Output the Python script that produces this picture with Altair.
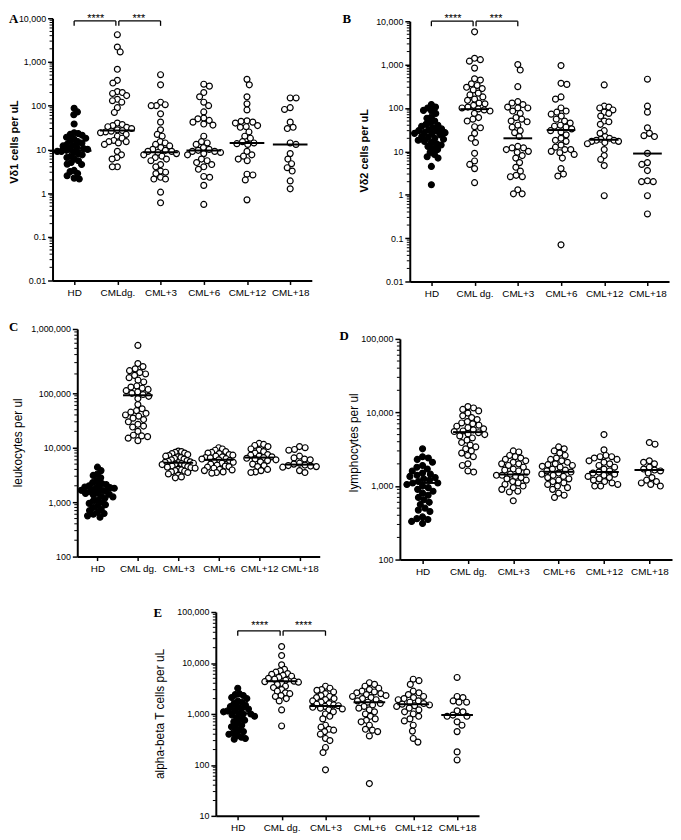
import json
import math
import altair as alt
import pandas as pd

# ---------------- data ----------------
LABELS_A = ["HD", "CMLdg.", "CML+3", "CML+6", "CML+12", "CML+18"]
LABELS = ["HD", "CML dg.", "CML+3", "CML+6", "CML+12", "CML+18"]

# A: Vd1 cells per uL
VD1 = [
    [87, 72, 62, 38, 24, 23, 22, 21, 19, 18, 17, 16, 15, 14, 13, 12.5, 12, 11, 10.5, 10, 10, 9.5, 9, 9, 8.5, 8, 7.5, 7, 6.5, 6, 5.5, 5, 4.6, 4.5, 3.3, 3.1, 2.8, 2.5, 2.2, 2.1],
    [4200, 2200, 1700, 680, 380, 330, 210, 200, 190, 170, 140, 130, 120, 90, 70, 40, 37, 35, 33, 32, 30, 28, 27, 26, 25, 24, 22, 20, 18, 16, 15, 15, 14, 13, 9, 7.5, 6.5, 6, 4, 4],
    [510, 300, 120, 105, 100, 100, 65, 42, 28, 22, 20, 15, 14, 13, 12, 11, 10, 9.5, 9, 9, 8.5, 8, 7.5, 7, 6.5, 6, 5.5, 4.5, 4, 3.2, 3, 2.8, 2.3, 2.1, 2.1, 1.05, 0.6],
    [310, 280, 200, 160, 120, 100, 72, 52, 50, 46, 42, 38, 36, 20, 15, 14, 13, 11, 10, 9.5, 9, 9, 8.5, 8, 7.5, 6, 5.5, 5, 4.5, 4, 3.5, 2.4, 2.3, 1.5, 0.55],
    [400, 300, 160, 110, 80, 45, 44, 42, 40, 35, 33, 32, 25, 20, 18, 15, 14, 13.5, 13, 9, 7.5, 7, 6, 5.5, 2.7, 2.6, 2.0, 0.7],
    [150, 150, 90, 82, 42, 32, 30, 14, 13, 8, 6, 4.7, 3.8, 3.2, 1.9, 1.25],
]
VD1_MED = [9.3, 27, 8.6, 9.4, 14, 13]

# B: Vd2 cells per uL
VD2 = [
    [120, 105, 100, 88, 85, 75, 62, 58, 50, 45, 42, 40, 38, 35, 33, 32, 30, 29, 28, 27, 26, 25, 24, 22, 21, 20, 19, 18, 17, 16, 15, 14, 13, 12, 11, 9.5, 8.5, 7.5, 7, 4.5, 1.7],
    [5700, 1400, 1300, 1200, 830, 470, 440, 360, 330, 300, 280, 260, 220, 200, 180, 160, 150, 130, 125, 115, 105, 100, 95, 90, 85, 75, 60, 55, 50, 37, 35, 26, 20, 16, 9, 6, 5, 4, 1.9],
    [1000, 750, 310, 140, 130, 120, 105, 100, 100, 85, 75, 60, 55, 50, 48, 40, 36, 30, 27, 22, 13, 12, 12, 11, 10, 9.5, 8, 7, 5.5, 4.3, 3.5, 2.8, 2.6, 2.6, 1.3, 1.05, 1.05],
    [950, 370, 350, 180, 160, 100, 85, 80, 72, 65, 55, 50, 45, 40, 38, 36, 33, 30, 28, 24, 20, 18, 17, 14, 12.5, 11, 11, 10, 9.3, 8.5, 7, 4, 3, 2.7, 0.07],
    [340, 110, 105, 100, 90, 80, 75, 65, 50, 48, 42, 30, 26, 22, 20, 19, 18, 18, 17, 17, 16, 15, 11, 8, 6.5, 4.7, 0.95],
    [460, 110, 80, 35, 26, 23, 22, 9, 5.5, 5, 3.6, 2.1, 2.0, 2.0, 0.95, 0.36],
]
VD2_MED = [28, 94, 20, 31, 18.5, 8.9]

# C: leukocytes per ul
LEU = [
    [4400, 3800, 3300, 3100, 2800, 2500, 2300, 2200, 2100, 2000, 1950, 1900, 1850, 1800, 1750, 1700, 1650, 1600, 1550, 1500, 1450, 1400, 1350, 1300, 1250, 1200, 1100, 1050, 1000, 950, 900, 850, 800, 750, 700, 650, 620, 600, 560, 530],
    [555000, 290000, 260000, 240000, 225000, 210000, 200000, 190000, 175000, 160000, 150000, 130000, 125000, 120000, 115000, 110000, 105000, 100000, 95000, 88000, 80000, 62000, 52000, 48000, 45000, 43000, 40000, 38000, 35000, 33000, 30000, 27000, 25000, 24000, 20000, 17000, 16500, 16000, 15000, 13500],
    [8700, 8500, 8200, 8000, 7800, 7500, 7200, 7000, 6800, 6600, 6400, 6200, 6000, 5800, 5600, 5500, 5400, 5300, 5200, 5100, 5000, 4900, 4800, 4600, 4500, 4400, 4300, 4200, 4000, 3900, 3800, 3700, 3600, 3500, 3300, 3100, 2900, 2800],
    [10000, 9500, 9000, 8500, 8200, 8000, 7800, 7500, 7300, 7000, 6800, 6600, 6500, 6300, 6200, 6000, 5800, 5600, 5400, 5200, 5000, 4800, 4600, 4500, 4400, 4200, 4000, 3900, 3800, 3600, 3500, 3400],
    [12000, 11500, 11000, 10500, 9500, 9000, 8500, 8000, 7500, 7300, 7000, 6800, 6600, 6400, 6200, 6000, 5800, 5500, 5000, 4700, 4500, 4000, 3800, 3600, 3500],
    [10500, 10000, 9300, 9000, 7000, 6500, 6200, 6000, 5200, 5000, 4800, 4700, 4600, 4500, 4400, 3800, 3500],
]
LEU_MED = [1500, 92000, 5300, 6000, 6600, 4900]

# D: lymphocytes per ul
LYM = [
    [3200, 2500, 2400, 2300, 2100, 1900, 1800, 1700, 1600, 1500, 1450, 1400, 1350, 1300, 1250, 1200, 1150, 1100, 1100, 1050, 1000, 950, 900, 850, 800, 750, 700, 650, 600, 560, 500, 470, 450, 380, 360, 350, 330, 310],
    [12000, 11500, 11000, 10500, 9800, 9000, 8500, 8000, 7500, 7200, 7000, 6700, 6500, 6200, 6000, 5800, 5600, 5500, 5300, 5100, 5000, 4800, 4500, 4200, 3900, 3600, 3400, 3200, 3000, 2800, 2600, 2500, 2000, 1900, 1600, 1550],
    [3000, 2900, 2600, 2500, 2400, 2300, 2200, 2100, 2000, 2000, 1900, 1800, 1700, 1650, 1600, 1550, 1450, 1400, 1400, 1350, 1300, 1250, 1200, 1150, 1100, 1050, 1000, 950, 900, 850, 830, 630],
    [3400, 3200, 3000, 2800, 2600, 2400, 2300, 2200, 2100, 2000, 1950, 1900, 1850, 1800, 1700, 1650, 1600, 1550, 1500, 1450, 1400, 1350, 1300, 1250, 1200, 1150, 1100, 1050, 1000, 950, 900, 800, 750, 700],
    [5000, 3100, 2600, 2500, 2500, 2400, 2300, 2200, 2100, 2000, 1900, 1800, 1700, 1600, 1550, 1500, 1450, 1400, 1350, 1300, 1250, 1200, 1150, 1100, 1050, 1000, 1000],
    [3900, 3700, 2200, 2100, 2000, 1800, 1700, 1650, 1600, 1500, 1300, 1200, 1150, 1100, 1050, 1000],
]
LYM_MED = [1100, 5400, 1430, 1560, 1550, 1650]

# E: alpha-beta T cells per uL
ABT = [
    [3200, 2500, 2400, 2300, 2100, 2000, 1800, 1700, 1600, 1500, 1400, 1350, 1300, 1250, 1200, 1150, 1100, 1050, 1000, 1000, 950, 900, 850, 800, 750, 700, 650, 600, 560, 520, 480, 450, 420, 400, 380, 350, 330, 320],
    [21000, 14000, 9200, 7500, 7000, 6600, 6200, 6000, 5700, 5500, 5200, 5000, 4800, 4600, 4400, 4300, 4200, 4000, 3800, 3500, 3300, 3000, 2800, 2600, 2500, 2300, 2200, 2000, 1800, 1200, 580],
    [3500, 3200, 3000, 2900, 2700, 2500, 2300, 2200, 2100, 2000, 1900, 1800, 1700, 1600, 1550, 1500, 1450, 1400, 1350, 1300, 1250, 1200, 1100, 1000, 900, 800, 600, 550, 500, 480, 450, 400, 330, 300, 220, 175, 80],
    [4100, 3800, 3500, 3200, 3000, 2800, 2700, 2600, 2500, 2400, 2300, 2200, 2100, 2000, 1900, 1800, 1700, 1600, 1500, 1400, 1300, 1200, 1100, 1000, 900, 800, 750, 700, 600, 500, 480, 450, 370, 43],
    [4800, 4500, 3800, 2800, 2600, 2400, 2200, 2100, 2000, 1900, 1800, 1700, 1600, 1550, 1500, 1450, 1400, 1300, 1200, 1100, 1000, 900, 800, 730, 600, 460, 330, 280],
    [5200, 2200, 2100, 1800, 1700, 1700, 1150, 1100, 950, 900, 900, 700, 600, 450, 180, 125],
]
ABT_MED = [1030, 4400, 1430, 1700, 1550, 950]

# significance brackets: (from group, to group, y value, stars)
BR_A = [(0, 1, 8700, "****"), (1, 2, 8700, "***")]
BR_B = [(0, 1, 10000, "****"), (1, 2, 10000, "***")]
BR_E = [(0, 1, 42800, "****"), (1, 2, 42800, "****")]

# ---------------- styling ----------------
SANS = "Liberation Sans, Arial, sans-serif"
SERIF = "Liberation Serif, Times New Roman, serif"
DOT = 6.0
HALF_W = 17.0
ONE = pd.DataFrame({"k": [0]})


def make_ypix(dom, rng):
    ld = [math.log10(v) for v in dom]

    def f(v):
        lv = math.log10(v)
        for k in range(len(ld) - 1):
            if lv <= ld[k + 1] or k == len(ld) - 2:
                t = (lv - ld[k]) / (ld[k + 1] - ld[k])
                return rng[k] + t * (rng[k + 1] - rng[k])
    return f


def swarm(pix, d=DOT, half=HALF_W):
    order = sorted(range(len(pix)), key=lambda i: pix[i])
    placed = []
    offs = [0.0] * len(pix)
    flip = 1
    for i in order:
        y = pix[i]
        near = [(px, py) for px, py in placed if abs(py - y) < d]
        cands = [0.0]
        for px, py in near:
            dx = math.sqrt(d * d - (py - y) ** 2)
            cands += [px + dx, px - dx]
        cands.sort(key=lambda c: (round(abs(c), 5), -flip * c))
        for c in cands:
            if all((c - px) ** 2 + (y - py) ** 2 >= d * d - 1e-6 for px, py in near):
                offs[i] = c
                placed.append((c, y))
                if abs(c) > 1e-9:
                    flip = -flip
                break
    m = max(abs(o) for o in offs) if offs else 0
    if m > half:
        offs = [o * half / m for o in offs]
    return offs


def make_panel(p):
    W, H = p["W"], p["H"]
    dom, rng = p["dom"], p["rng"]
    ypix = make_ypix(dom, rng)
    step = W / 6.0
    rows = []
    for gi, vals in enumerate(p["data"]):
        offs = swarm([ypix(v) for v in vals])
        for v, o in zip(vals, offs):
            rows.append({"pos": gi + o / step, "value": v,
                         "fillc": "black" if gi == 0 else "white"})
    pts = pd.DataFrame(rows)

    lo = round(math.log10(dom[0]))
    hi = round(math.log10(dom[-1]))
    decades = [10.0 ** e for e in range(lo, hi + 1)]
    minors = [k * 10.0 ** e for e in range(lo, hi) for k in range(2, 10)]

    xs = alt.Scale(domain=[-0.5, 5.5], nice=False, zero=False)
    ys = alt.Scale(type="log", domain=dom, range=rng, nice=False)
    lab_expr = json.dumps(p["labels"]) + "[round(datum.value)]"
    xaxis = alt.Axis(values=list(range(6)), labelExpr=lab_expr, tickSize=4,
                     tickWidth=1.5, tickColor="black", domainColor="black",
                     domainWidth=2, labelFont=SANS, labelFontSize=10,
                     labelColor="black", labelPadding=3, labelAngle=0,
                     labelOverlap=False, grid=False, title=None)
    yaxis = alt.Axis(values=decades, labelExpr="format(datum.value, ',')",
                     tickSize=5, tickWidth=1.5, tickColor="black",
                     domainColor="black", domainWidth=2, labelFont=SANS,
                     labelFontSize=9, labelColor="black", labelPadding=2,
                     labelOverlap=False, grid=False, title=None)

    def X(field):
        return alt.X(field, scale=xs, axis=xaxis)

    def Y(field):
        return alt.Y(field, scale=ys, axis=yaxis)

    L, T, R, B = p["box"]
    layers = []
    # data points (carry the axes)
    layers.append(alt.Chart(pts).mark_point(
        shape="circle", filled=True, size=36, stroke="black", strokeWidth=1.2,
        opacity=1).encode(
        x=X("pos:Q"), y=Y("value:Q"),
        fill=alt.Fill("fillc:N", scale=None)))
    # invisible frame fixing this panel's footprint in the layout
    layers.append(alt.Chart(ONE).mark_rect(opacity=0).encode(
        x=alt.value(-L), x2=alt.value(W + R), y=alt.value(-T), y2=alt.value(H + B)))
    # minor ticks of the log axis
    layers.append(alt.Chart(pd.DataFrame({"value": minors})).mark_rule(
        color="black", strokeWidth=1).encode(
        x=alt.value(-3), x2=alt.value(0), y=Y("value:Q")))
    # medians
    med = pd.DataFrame({"pos": list(range(6)), "value": p["med"]})
    layers.append(alt.Chart(med).mark_tick(
        orient="horizontal", size=p["medw"], thickness=2, color="black",
        opacity=1).encode(x=X("pos:Q"), y=Y("value:Q")))
    # significance brackets
    if p.get("br"):
        gap = 1.5 / step
        top_ppd = (rng[-2] - rng[-1]) / (math.log10(dom[-1]) - math.log10(dom[-2]))
        drop = 10 ** (-5.0 / top_ppd)
        hrows, vrows, srows = [], [], []
        for (a, b, yv, stars) in p["br"]:
            xa = a + (gap if a == 1 else 0)
            xb = b - (gap if b == 1 else 0)
            hrows.append({"pos": xa, "pos2": xb, "value": yv})
            vrows.append({"pos": xa, "value": yv, "value2": yv * drop})
            vrows.append({"pos": xb, "value": yv, "value2": yv * drop})
            srows.append({"pos": (a + b) / 2.0, "value": yv, "s": stars})
        layers.append(alt.Chart(pd.DataFrame(hrows)).mark_rule(
            color="black", strokeWidth=1.3).encode(
            x=X("pos:Q"), x2="pos2:Q", y=Y("value:Q")))
        layers.append(alt.Chart(pd.DataFrame(vrows)).mark_rule(
            color="black", strokeWidth=1.3).encode(
            x=X("pos:Q"), y=Y("value:Q"), y2="value2:Q"))
        sdy = p["star_top"] - ypix(p["br"][0][2])
        layers.append(alt.Chart(pd.DataFrame(srows)).mark_text(
            baseline="top", align="center", dy=sdy, fontSize=11, font=SANS,
            color="black").encode(
            x=X("pos:Q"), y=Y("value:Q"), text="s:N"))
    # y-axis title (rotated text)
    layers.append(alt.Chart(ONE).mark_text(
        angle=270, align="center", baseline="middle", font=SANS,
        fontSize=p["tfs"], fontWeight=p["tfw"], color="black").encode(
        x=alt.value(p["tx"]), y=alt.value(p["ty"]), text=alt.value(p["title"])))
    # panel letter
    lx, ly = p["letter_xy"]
    layers.append(alt.Chart(ONE).mark_text(
        align="left", baseline="top", font=SERIF, fontSize=13,
        fontWeight="bold", color="black").encode(
        x=alt.value(lx), y=alt.value(ly), text=alt.value(p["letter"])))
    return alt.layer(*layers).properties(width=W, height=H)


def spacer(w, h):
    return alt.Chart(ONE).mark_rect(opacity=0).encode(
        x=alt.value(0), x2=alt.value(w), y=alt.value(0), y2=alt.value(h)
    ).properties(width=w, height=h)


def cell(panel, w, h):
    return alt.vconcat(spacer(1, h),
                       alt.hconcat(spacer(w, 1), panel, spacing=0),
                       spacing=0)


pA = make_panel(dict(W=262, H=265, dom=[0.01, 10000], rng=[265, 0], data=VD1,
                     med=VD1_MED, medw=35, labels=LABELS_A,
                     title="Vδ1 cells per uL", tfs=11, tfw="bold", tx=-38, ty=125,
                     box=(44, 5, 15, 21), br=BR_A, star_top=-5,
                     letter="A", letter_xy=(-44, -5)))
pB = make_panel(dict(W=262, H=263, dom=[0.01, 10000], rng=[263, 0], data=VD2,
                     med=VD2_MED, medw=29, labels=LABELS,
                     title="Vδ2 cells per uL", tfs=11, tfw="bold", tx=-45, ty=131,
                     box=(70, 8, 4, 20), br=BR_B, star_top=-8,
                     letter="B", letter_xy=(-68, -8)))
pC = make_panel(dict(W=245, H=230, dom=[100, 100000, 1000000], rng=[230, 65, 0],
                     data=LEU, med=LEU_MED, medw=30, labels=LABELS,
                     title="leukocytes per ul", tfs=12, tfw="normal", tx=-60, ty=115,
                     box=(69, 12, 7, 27), letter="C", letter_xy=(-69, -8)))
pD = make_panel(dict(W=275, H=223, dom=[100, 100000], rng=[223, 0], data=LYM,
                     med=LYM_MED, medw=30, labels=LABELS,
                     title="lymphocytes per ul", tfs=12, tfw="normal", tx=-46, ty=105,
                     box=(63, 12, 1, 24), letter="D", letter_xy=(-61, -9)))
pE = make_panel(dict(W=266, H=206, dom=[10, 100000], rng=[206, 0], data=ABT,
                     med=ABT_MED, medw=32, labels=LABELS,
                     title="alpha-beta T cells per uL", tfs=12, tfw="normal", tx=-56, ty=103,
                     box=(64, 8, 5, 18), br=BR_E, star_top=8,
                     letter="E", letter_xy=(-63, -5)))

row1 = alt.hconcat(cell(pA, 1, 1), cell(pB, 14, 1), spacing=0)
row2 = alt.hconcat(cell(pC, 1, 16), cell(pD, 11, 26), spacing=0)
row3 = alt.hconcat(cell(pE, 146, 21), spacing=0)

chart = alt.vconcat(row1, row2, row3, spacing=0).properties(
    padding=0, background="white"
).configure_view(strokeWidth=0)

chart.save("out.html", embed_options={"renderer": "svg", "actions": False})
